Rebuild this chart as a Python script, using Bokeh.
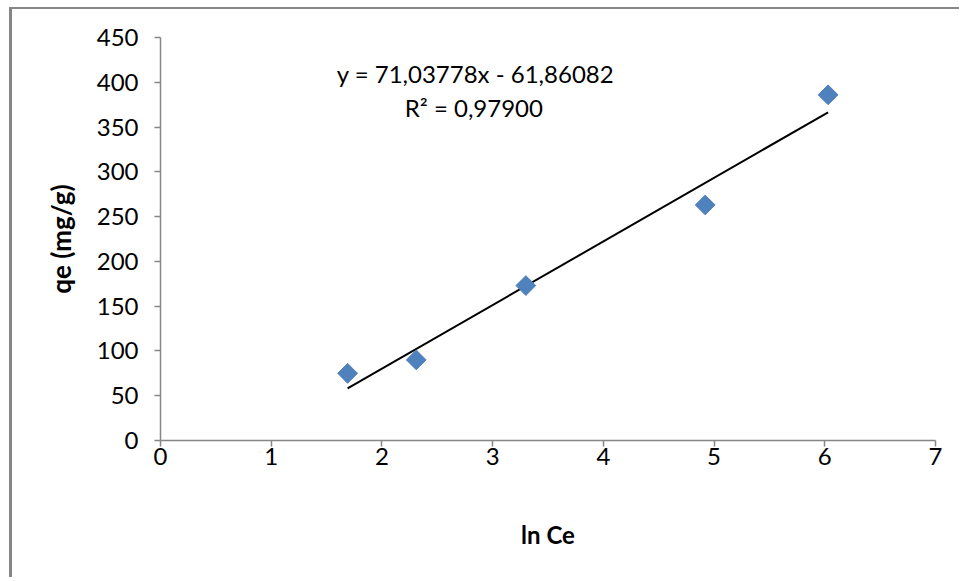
from bokeh.plotting import figure
from bokeh.models import Range1d, FixedTicker, Label
from bokeh.embed import file_html
from bokeh.resources import INLINE
import numpy as np

# data
ln_ce = [1.69, 2.31, 3.30, 4.92, 6.03]
qe = [75, 90, 173, 263, 386]
slope = 71.03778
intercept = -61.86082
r2_text = "R² = 0,97900"
eq_text = "y = 71,03778x - 61,86082"
x_ticks = [0, 1, 2, 3, 4, 5, 6, 7]
y_ticks = [0, 50, 100, 150, 200, 250, 300, 350, 400, 450]

FONT = "Lato"
AXIS_COL = "#868686"

p = figure(width=950, height=570, output_backend="svg", toolbar_location=None,
           x_range=Range1d(0, 7), y_range=Range1d(0, 450),
           min_border_left=148, min_border_right=27, min_border_top=28,
           min_border_bottom=139,
           styles={"margin-left": "9px", "margin-top": "7px",
                   "border-left": "3px solid #868686",
                   "border-top": "2px solid #868686"})
p.outline_line_color = None
p.xgrid.visible = False
p.ygrid.visible = False

for ax in (p.xaxis[0], p.yaxis[0]):
    ax.axis_line_color = AXIS_COL
    ax.axis_line_width = 1.5
    ax.major_tick_line_color = AXIS_COL
    ax.major_tick_line_width = 1.5
    ax.major_tick_in = 0
    ax.major_tick_out = 6
    ax.minor_tick_line_color = None
    ax.major_label_text_font = FONT
    ax.major_label_text_font_size = "24px"
    ax.major_label_text_color = "black"
    ax.axis_label_text_font = FONT
    ax.axis_label_text_font_style = "bold"
    ax.axis_label_text_color = "black"

p.xaxis.ticker = FixedTicker(ticks=x_ticks)
p.yaxis.ticker = FixedTicker(ticks=y_ticks)
p.xaxis.axis_label = "ln Ce"
p.yaxis.axis_label = "qe (mg/g)"
p.xaxis.axis_label_text_font_size = "24px"
p.yaxis.axis_label_text_font_size = "26px"
p.xaxis.major_label_standoff = 1
p.yaxis.major_label_standoff = 16
p.xaxis.axis_label_standoff = 52
p.yaxis.axis_label_standoff = 17

# trendline from fitted equation over data range
xs = np.array([min(ln_ce), max(ln_ce)])
p.line(xs, slope * xs + intercept, line_color="black", line_width=2)

p.scatter(ln_ce, qe, marker="square", angle=np.pi / 4, size=14,
          fill_color="#4F81BD", line_color="#4F81BD")

p.add_layout(Label(x=2.845, y=409.8, text=eq_text, text_align="center",
                   text_baseline="middle", text_font=FONT,
                   text_font_size="24px", text_color="black"))
p.add_layout(Label(x=2.83, y=371.8, text=r2_text, text_align="center",
                   text_baseline="middle", text_font=FONT,
                   text_font_size="24px", text_color="black"))

open("out.html", "w").write(file_html(p, INLINE))
